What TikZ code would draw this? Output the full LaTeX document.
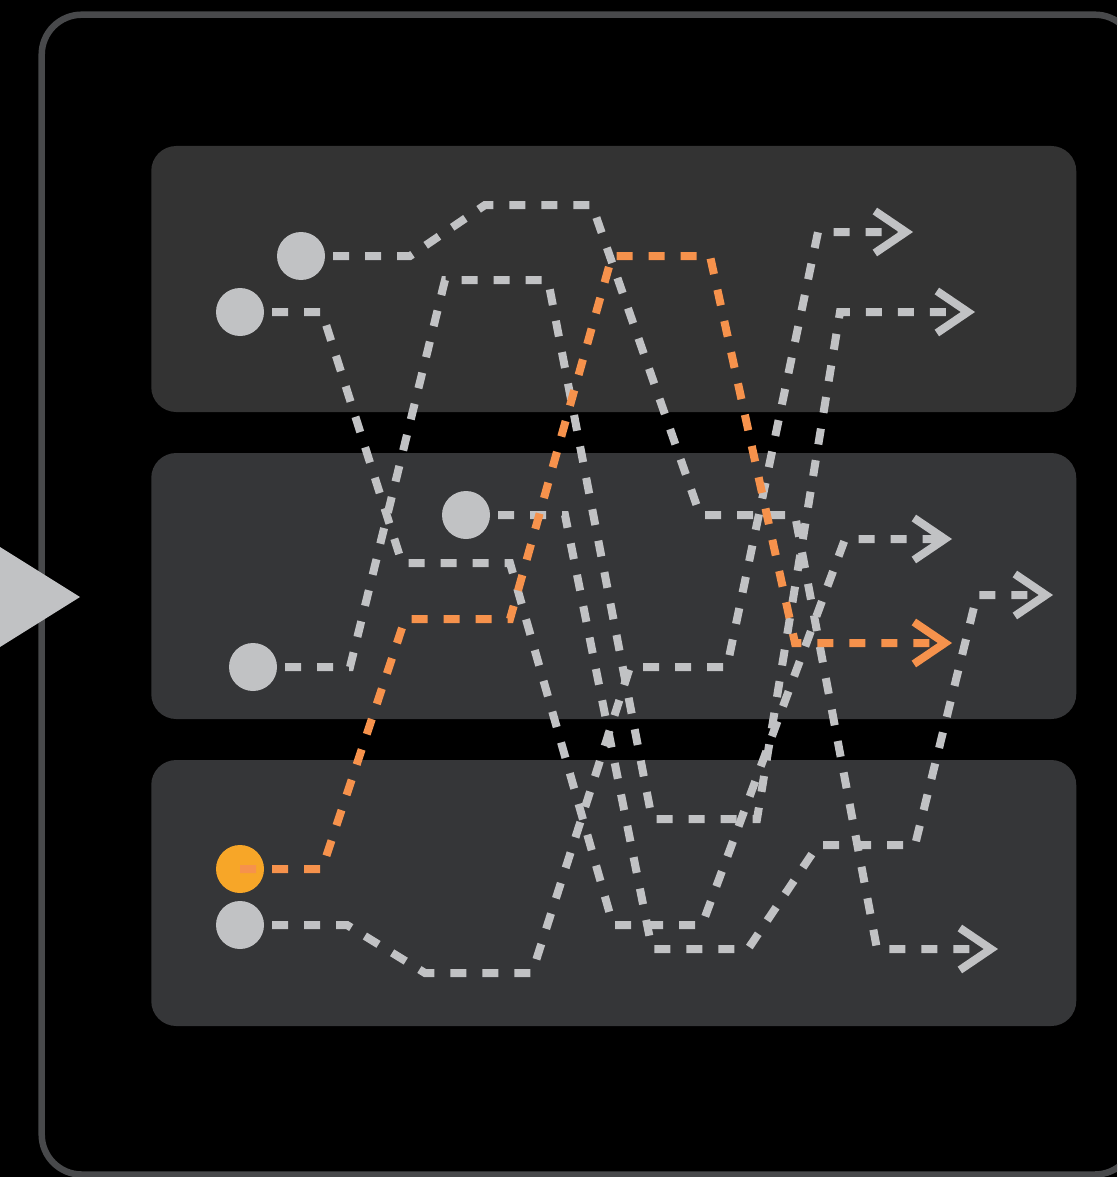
\documentclass[tikz,border=0pt]{standalone}
\usetikzlibrary{arrows.meta}

\definecolor{wire}{RGB}{193,194,196}
\definecolor{hot}{RGB}{246,146,76}
\definecolor{hotdot}{RGB}{247,166,40}
\definecolor{lane}{RGB}{53,54,56}
\definecolor{lanetop}{RGB}{51,51,51}
\definecolor{rim}{RGB}{72,73,75}

\begin{document}
\begin{tikzpicture}[x=1pt,y=-1pt,
  lanebox/.style={fill=lane, draw=none, rounded corners=25pt,
    minimum width=925pt, minimum height=266pt, inner sep=0pt},
  port/.style={circle, fill=wire, draw=none, minimum size=48pt, inner sep=0pt},
  hotport/.style={port, fill=hotdot},
  route/.style={draw=wire, line width=8pt, dash pattern=on 16pt off 16pt},
  hotroute/.style={route, draw=hot},
  endtip/.style={-{Straight Barb[length=31pt,width=42pt]}}
]
% canvas
\useasboundingbox (0,0) rectangle (1117,1177);
\clip (0,0) rectangle (1117,1177);
\fill[black] (0,0) rectangle (1117,1177);

% outer frame and the entry marker on its left side
\draw[rim, line width=6.5pt, rounded corners=40pt] (41.7,14.7) rectangle (1135,1174.5);
\fill[wire] (-10,540.75) -- (80,597) -- (-10,653.25) -- cycle;

% three lanes
\node[lanebox, fill=lanetop] (laneTop) at (613.75,279) {};
\node[lanebox] (laneMid) at (613.75,586) {};
\node[lanebox] (laneBot) at (613.75,893) {};

% sources
\node[port] (pA) at (301,256) {};
\node[port] (pB) at (240,312) {};
\node[port] (pC) at (466,515) {};
\node[port] (pD) at (253,667) {};
\node[hotport] (pE) at (240,869) {};
\node[port] (pF) at (240,925) {};

% arrow ends
\coordinate (outA) at (998,949);
\coordinate (outB) at (952,539);
\coordinate (outC) at (1053,595);
\coordinate (outD) at (975,312);
\coordinate (outE) at (952,643);
\coordinate (outF) at (913,232);

% routes
\draw[route, endtip] (pA.center) -- (410,256) -- (485,205) -- (592,205)
  -- (700,515) -- (795,515) -- (877,949) -- (outA);
\draw[route, endtip] (pB.center) -- (322,312) -- (402,563) -- (510,563)
  -- (613,925) -- (702,925) -- (845,539) -- (outB);
\draw[route, endtip] (pC.center) -- (565,515) -- (652,949) -- (748,949)
  -- (818,845) -- (915,845) -- (977,595) -- (outC);
\draw[route, endtip] (pD.center) -- (350,667) -- (445,280) -- (548,280)
  -- (652,819) -- (757,819) -- (840,312) -- (outD);
\draw[route, endtip] (pF.center) -- (347,925) -- (425,973) -- (532,973)
  -- (630,667) -- (727,667) -- (818,232) -- (outF);
\draw[hotroute, endtip] (pE.center) -- (322,869) -- (405,619) -- (510,619)
  -- (612,256) -- (710,256) -- (795,643) -- (outE);
\end{tikzpicture}
\end{document}
